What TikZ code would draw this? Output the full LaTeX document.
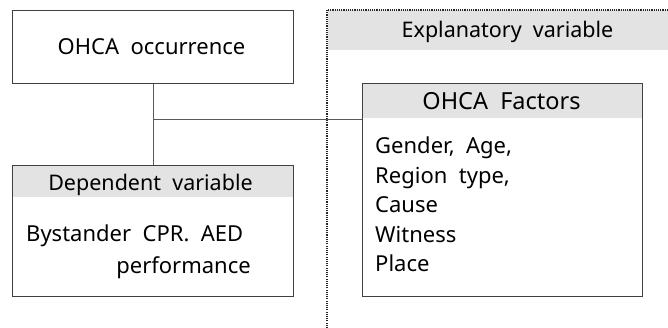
\documentclass[tikz,border=0pt]{standalone}
\usepackage{fontspec}
\setmainfont{Noto Sans}
\begin{document}
\begin{tikzpicture}[x=1pt,y=-1pt,
  box/.style={draw=black!75,line width=0.9pt},
  band/.style={fill=black!11,draw=none},
  txt/.style={font=\fontsize{22}{26}\selectfont,text=black,inner sep=0pt},
  head/.style={txt,font=\fontsize{21.5}{26}\selectfont},
  conn/.style={draw=black!65,line width=0.9pt},
  fence/.style={draw=black!85,line width=1.1pt,dash pattern=on 1.1pt off 1.1pt}]
\useasboundingbox (0,0) rectangle (668,328);
% explanatory variable region
\fill[black!11] (328,10) rectangle (668,50);
\draw[fence] (327,328) -- (327,10) -- (668,10);
\node[head,anchor=base] (expl) at (507.5,37.5) {Explanatory\ \ variable};
% top box
\node[box,minimum width=281pt,minimum height=73pt,anchor=north west,inner sep=0pt] (occ) at (12,10) {};
\node[txt,anchor=base] (occt) at (151.5,55) {OHCA\ \ occurrence};
% dependent variable box
\node[box,minimum width=281pt,minimum height=131pt,anchor=north west,inner sep=0pt] (dep) at (12,165) {};
\fill[band] ([xshift=0.5pt,yshift=-0.5pt]dep.north west) rectangle ([xshift=-0.5pt]dep.north east |- 0,197);
\draw[box] (dep.north west) rectangle (dep.south east);
\node[head,anchor=base] (dept) at (150.5,190.5) {Dependent\ \ variable};
\node[txt,anchor=base west] (dep1) at (26,241.5) {Bystander\ \ CPR.\ \ AED};
\node[txt,anchor=base east] (dep2) at (251,273) {performance};
% factors box
\node[box,minimum width=280pt,minimum height=213pt,anchor=north west,inner sep=0pt] (fac) at (362,83) {};
\fill[band] ([xshift=0.5pt,yshift=-0.5pt]fac.north west) rectangle ([xshift=-0.5pt]fac.north east |- 0,118);
\draw[box] (fac.north west) rectangle (fac.south east);
\node[txt,font=\fontsize{23.5}{26}\selectfont,anchor=base] (fact) at (501.5,109.5) {OHCA\ \ Factors};
\node[txt,anchor=base west] (f1) at (375,154) {Gender,\ \ Age,};
\node[txt,anchor=base west] (f2) at (375,183.5) {Region\ \ type,};
\node[txt,anchor=base west] (f3) at (375,213) {Cause};
\node[txt,anchor=base west] (f4) at (375,242.5) {Witness};
\node[txt,anchor=base west] (f5) at (375,272) {Place};
% connectors
\coordinate (j) at (occ.south |- 0,119);
\draw[conn] (occ.south) -- (dep.north);
\draw[conn] (j) -- (fac.west |- j);
\end{tikzpicture}
\end{document}
